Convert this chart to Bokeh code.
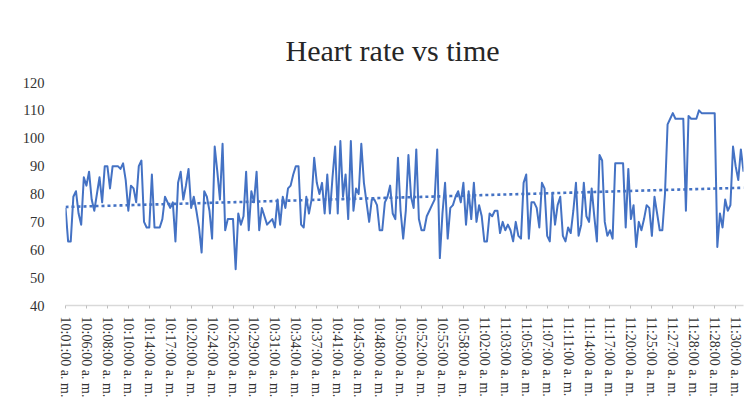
import numpy as np
from bokeh.plotting import figure
from bokeh.models import Range1d, FixedTicker
from bokeh.embed import file_html
from bokeh.resources import INLINE

# Heart rate samples (bpm)
heart_rate = [
    75, 63, 63, 79, 81, 73, 69, 86, 83, 88,
    78, 74, 80, 86, 77, 90, 90, 82, 90, 90,
    90, 89, 91, 85, 74, 83, 82, 77, 90, 92,
    70, 68, 68, 87, 68, 68, 68, 71, 79, 77,
    75, 77, 63, 84, 88, 78, 83, 89, 75, 79,
    74, 68, 59, 81, 79, 74, 64, 97, 88, 78,
    98, 67, 71, 71, 71, 53,
    73, 69, 72, 88, 67, 81, 77, 88, 67, 75,
    72, 69, 70, 71, 68, 78, 69, 79, 75, 82,
    83, 87, 90, 90, 69, 68, 79, 73, 78, 93,
    84, 80, 84, 73, 87, 73, 86, 97, 73, 99,
    79, 87, 71, 99, 74, 82, 80, 98, 84, 77,
    70, 78, 78, 76, 67, 67, 77, 79, 83, 73,
    71, 93, 74, 64,
    74, 94, 79, 75, 96, 71, 67, 67, 72, 74,
    76, 78, 96, 57, 73, 84, 64, 75, 76, 79,
    81, 77, 84, 69, 81, 71, 84, 70, 76, 72,
    63, 63, 73, 72, 74, 74, 66, 70, 67, 69,
    67, 63, 70, 65, 64, 84, 87, 64, 77, 77,
    75, 68, 84, 82, 65, 63, 80, 69, 76, 79,
    65, 63, 68, 66, 74, 84, 65,
    69, 84, 72, 70, 82, 72, 63, 94, 92, 70,
    65, 67, 64, 91, 91, 91, 91, 68, 89, 71,
    76, 61, 70, 67, 71, 76, 75, 65, 79, 73,
    67, 67, 80, 105, 107, 109, 107, 107, 107, 107,
    74, 108, 107, 107, 107, 110, 109, 109, 109, 109,
    109, 109, 61, 73, 68, 78, 74, 76, 97, 90,
    85, 96, 88,
]

# Category labels shown on the axis (every 8th sample)
time_labels = [
    "10:01:00 a. m.", "10:06:00 a. m.", "10:08:00 a. m.", "10:10:00 a. m.",
    "10:14:00 a. m.", "10:17:00 a. m.", "10:20:00 a. m.", "10:24:00 a. m.",
    "10:26:00 a. m.", "10:29:00 a. m.", "10:31:00 a. m.", "10:34:00 a. m.",
    "10:37:00 a. m.", "10:41:00 a. m.", "10:45:00 a. m.", "10:48:00 a. m.",
    "10:50:00 a. m.", "10:52:00 a. m.", "10:55:00 a. m.", "10:58:00 a. m.",
    "11:02:00 a. m.", "11:03:00 a. m.", "11:05:00 a. m.", "11:07:00 a. m.",
    "11:11:00 a. m.", "11:14:00 a. m.", "11:17:00 a. m.", "11:20:00 a. m.",
    "11:25:00 a. m.", "11:27:00 a. m.", "11:28:00 a. m.", "11:28:00 a. m.",
    "11:30:00 a. m.",
]
label_step = 8
y_ticks = [40, 50, 60, 70, 80, 90, 100, 110, 120]

N = len(heart_rate)
xs = np.arange(N)
slope, intercept = np.polyfit(xs, np.array(heart_rate, dtype=float), 1)
trend = intercept + slope * xs

BLUE = "#4472C4"
FONT = "Liberation Serif"

p = figure(width=748, height=406, output_backend="svg", toolbar_location=None,
           x_range=Range1d(0, N - 1), y_range=Range1d(40, 120),
           min_border_left=65, min_border_right=5, min_border_top=82,
           min_border_bottom=101, title="Heart rate vs time")

p.title.text_font = FONT
p.title.text_font_size = "30px"
p.title.text_font_style = "normal"
p.title.text_color = "#262626"
p.title.align = "left"
p.title.offset = 220
p.title.standoff = 32

p.xgrid.visible = False
p.ygrid.visible = False
p.outline_line_color = None
p.background_fill_color = "white"
p.border_fill_color = "white"

p.line(xs, heart_rate, line_color=BLUE, line_width=2, line_join="round")
p.line(xs, trend, line_color=BLUE, line_width=2.6, line_dash="3 3")

tick_pos = [i * label_step for i in range(len(time_labels))]
p.xaxis.ticker = FixedTicker(ticks=tick_pos)
p.xaxis.major_label_overrides = {t: lbl for t, lbl in zip(tick_pos, time_labels)}
p.xaxis.major_label_orientation = "vertical"
p.xaxis.minor_tick_line_color = None
p.xaxis.axis_line_color = "#d9d9d9"
p.xaxis.axis_line_width = 1.5
p.xaxis.major_tick_line_color = "#bfbfbf"
p.xaxis.major_tick_in = 0
p.xaxis.major_tick_out = 3
p.xaxis.major_label_standoff = 8
p.xaxis.major_label_text_font = FONT
p.xaxis.major_label_text_font_size = "14px"
p.xaxis.major_label_text_color = "#333333"

p.yaxis.ticker = FixedTicker(ticks=y_ticks)
p.yaxis.axis_line_color = None
p.yaxis.major_tick_line_color = None
p.yaxis.minor_tick_line_color = None
p.yaxis.major_label_standoff = 15
p.yaxis.major_label_text_font = FONT
p.yaxis.major_label_text_font_size = "14.5px"
p.yaxis.major_label_text_color = "#333333"

open("out.html", "w").write(file_html(p, INLINE))
